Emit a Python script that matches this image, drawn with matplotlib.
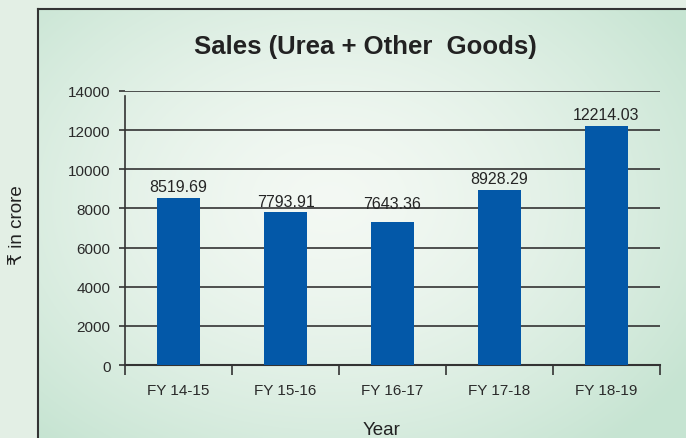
import numpy as np
import matplotlib
matplotlib.use('Agg')
import matplotlib.pyplot as plt
from matplotlib.lines import Line2D

plt.rcParams['font.family'] = ['Liberation Sans', 'DejaVu Sans']

years = ['FY 14-15', 'FY 15-16', 'FY 16-17', 'FY 17-18', 'FY 18-19']
bar_heights = [8519.69, 7793.91, 7330, 8928.29, 12214.03]   # as drawn in the picture
label_values = [8519.69, 7793.91, 7643.36, 8928.29, 12214.03]
label_texts = ['8519.69', '7793.91', '7643.36', '8928.29', '12214.03']
yticks = [0, 2000, 4000, 6000, 8000, 10000, 12000, 14000]

W, H = 686, 439
fig = plt.figure(figsize=(W / 100, H / 100), dpi=100)
fig.patch.set_facecolor('#e3efe5')

# gradient panel behind the chart
bg = fig.add_axes([38 / W, 0, 1 - 38 / W, 1 - 9 / H])
bg.set_axis_off()
gx, gy = np.meshgrid(np.linspace(-1, 1, 400), np.linspace(-1, 1, 300))
d = np.clip(np.sqrt(((gx + 0.1) * 0.95) ** 2 + ((gy + 0.1) * 0.85) ** 2) / 1.25, 0, 1) ** 1.5
c0 = np.array([0.955, 0.975, 0.955])
c1 = np.array([0.78, 0.895, 0.825])
img = c0[None, None, :] * (1 - d[..., None]) + c1[None, None, :] * d[..., None]
bg.imshow(img, aspect='auto', extent=[0, 1, 0, 1], zorder=0)
bg.set_xlim(0, 1)
bg.set_ylim(0, 1)

# frame lines (top and left)
fig.add_artist(Line2D([38 / W, 1], [1 - 9.5 / H, 1 - 9.5 / H], color='#333333', lw=1.5))
fig.add_artist(Line2D([38 / W, 38 / W], [0, 1 - 9.5 / H], color='#333333', lw=1.5))

ax = fig.add_axes([125 / W, 1 - 366 / H, (660 - 125) / W, (366 - 92) / H])
ax.patch.set_alpha(0)

x = np.arange(len(years))
ax.bar(x, bar_heights, width=0.4, color='#0358a8', zorder=3)
for a, v, t in zip(x, label_values, label_texts):
    ax.text(a, v + 200, t, ha='center', va='bottom', fontsize=11.5, color='#252525')

ax.set_xlim(-0.5, len(years) - 0.5)
ax.set_ylim(0, 14000)
ax.set_yticks(yticks)
ax.set_yticklabels([str(v) for v in yticks], fontsize=11, color='#2a2a2a')
ax.set_xticks(x)
ax.set_xticklabels(years, fontsize=11, color='#2a2a2a')
ax.set_xticks(np.arange(len(years) + 1) - 0.5, minor=True)
ax.tick_params(axis='x', which='major', length=0, pad=13)
ax.tick_params(axis='x', which='minor', length=7, width=1.2, color='#333333', direction='out')
ax.tick_params(axis='y', length=4.5, width=1.2, color='#333333', pad=6)
ax.grid(axis='y', color='#333333', lw=1.2, zorder=1)
for s in ['top', 'right']:
    ax.spines[s].set_visible(False)
ax.spines['left'].set_color('#333333')
ax.spines['bottom'].set_color('#333333')
ax.spines['left'].set_linewidth(1.2)
ax.spines['bottom'].set_linewidth(1.5)
ax.spines['left'].set_bounds(0, 13750)

ax.set_xlabel('Year', fontsize=13.5, color='#222222')
ax.xaxis.set_label_coords(0.48, -0.205)

fig.text(365 / W, 1 - 47 / H, 'Sales (Urea + Other  Goods)', fontsize=18.5, fontweight='bold',
         color='#222222', ha='center', va='center')
fig.text(18 / W, 1 - 225 / H, '₹ in crore', fontsize=13.5, color='#222222', rotation=90,
         ha='center', va='center')

fig.savefig('out.png', dpi=100, facecolor=fig.get_facecolor())
